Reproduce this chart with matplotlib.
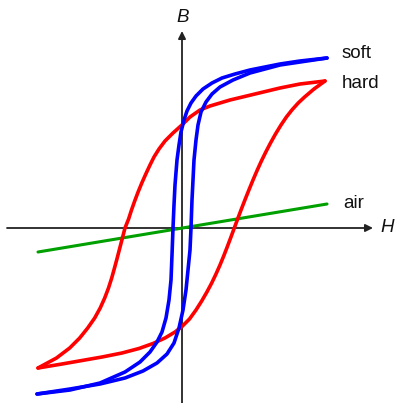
import matplotlib.pyplot as plt

# Hysteresis loops, H and B in arbitrary units (origin at the axes crossing)
# soft magnet: descending branch, then ascending branch
soft_down_H = [145, 118, 98, 78, 68, 53, 40, 30, 21, 14, 9, 5, 2, -1, -3, -5, -7, -8, -9,
               -10, -11, -13, -16, -20, -25, -32, -42, -57, -82, -112, -145]
soft_down_B = [170, 167, 164, 160, 158, 154, 150, 145, 139, 132, 125, 117, 108, 96, 83, 68, 43, 23, 0,
               -27, -52, -72, -90, -104, -114, -124, -134, -144, -155, -162, -166]
soft_up_H = [-145, -112, -82, -57, -39, -25, -15, -8, -3, 1, 4, 6, 8, 9, 10, 11, 12,
             14, 16, 19, 24, 30, 38, 51, 68, 98, 145]
soft_up_B = [-166, -161, -156, -150, -143, -135, -126, -115, -100, -82, -62, -42, -22, 0, 28, 48, 68,
             88, 103, 116, 126, 134, 141, 148, 155, 163, 170]

# hard magnet
hard_down_H = [143, 118, 98, 73, 48, 28, 18, 8, 1, -9, -17, -23, -28, -32, -36.2, -40.2, -43.9,
               -47.3, -50.5, -53.4, -57, -59.6, -62.2, -64.8, -67.5, -70.3, -73.5, -77.3, -81.8,
               -87.3, -94.3, -102.3, -112.3, -125.5, -144]
hard_down_B = [147, 144, 140, 134, 128, 122, 118, 111, 104, 95, 87, 79, 71, 63, 54, 45, 36,
               27, 18, 9, 0, -10, -20, -30, -40, -50, -60, -70, -80,
               -90, -100, -110, -120, -130, -140]
hard_up_H = [-144, -120, -100, -80, -60, -43, -29, -17, -7, 0, 7.5, 14, 19.7, 24.9, 29.7, 34, 38,
             41.7, 45.2, 48.6, 52.3, 56, 59.4, 62.9, 66.9, 71, 75.3, 79.4, 83.8, 88.5, 93.5, 99,
             104.4, 109.9, 116.2, 122.6, 132, 143]
hard_up_B = [-140, -136, -132.5, -129, -125, -120.5, -115.5, -110, -104, -98.5, -91, -82, -73, -64,
             -55, -46, -37, -28, -19, -10, 0, 10, 19, 28, 38, 48, 58, 67, 76, 85, 94, 103,
             111, 118, 125, 131, 139, 147]

# air: straight line B = mu0 * H
air_H = [-144, 145]
air_B = [-24, 24]

fig = plt.figure(figsize=(3.95, 4.03), dpi=100)
ax = fig.add_axes([0, 0, 1, 1])
ax.set_xlim(-182, 213)
ax.set_ylim(-175, 228)
ax.axis('off')

axis_col = '#222222'
# H and B axes with arrow heads
ax.annotate('', xy=(191, 0), xytext=(-175, 0),
            arrowprops=dict(arrowstyle='-|>', color=axis_col, lw=1.3, mutation_scale=11,
                            shrinkA=0, shrinkB=0))
ax.annotate('', xy=(0, 197), xytext=(0, -176),
            arrowprops=dict(arrowstyle='-|>', color=axis_col, lw=1.3, mutation_scale=11,
                            shrinkA=0, shrinkB=0))

lw = 2.6
ax.plot(air_H, air_B, color='#00a000', lw=2.2, solid_capstyle='round', zorder=3)
ax.plot(hard_down_H, hard_down_B, color='#ff0000', lw=lw, solid_joinstyle='round',
        solid_capstyle='round', zorder=4)
ax.plot(hard_up_H, hard_up_B, color='#ff0000', lw=lw, solid_joinstyle='round',
        solid_capstyle='round', zorder=4)
ax.plot(soft_down_H, soft_down_B, color='#0000ff', lw=lw, solid_joinstyle='round',
        solid_capstyle='round', zorder=5)
ax.plot(soft_up_H, soft_up_B, color='#0000ff', lw=lw, solid_joinstyle='round',
        solid_capstyle='round', zorder=5)

font = dict(family='Liberation Sans', fontsize=13.5, color='#111111')
ax.text(160, 174, 'soft', ha='left', va='center', **font)
ax.text(160, 144, 'hard', ha='left', va='center', **font)
ax.text(161, 25, 'air', ha='left', va='center', **font)
ax.text(1, 211, 'B', ha='center', va='center', style='italic', **font)
ax.text(198, 0, 'H', ha='left', va='center', style='italic', **font)

fig.savefig('out.png', dpi=100)
